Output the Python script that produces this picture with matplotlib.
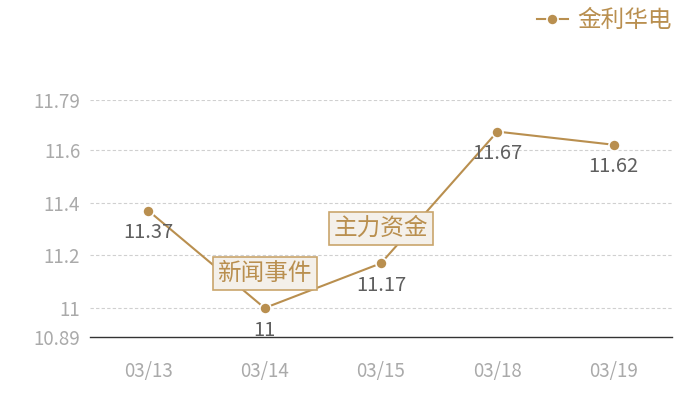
import matplotlib
matplotlib.use("Agg")
import matplotlib.pyplot as plt

plt.rcParams['font.family'] = ['Noto Sans CJK SC', 'DejaVu Sans']

# dati
dates = ["03/13", "03/14", "03/15", "03/18", "03/19"]
prices = [11.37, 11.00, 11.17, 11.67, 11.62]
yticks = [10.89, 11, 11.2, 11.4, 11.6, 11.79]
ytick_labels = ["10.89", "11", "11.2", "11.4", "11.6", "11.79"]
series_name = "金利华电"
events = [(1, "新闻事件"), (2, "主力资金")]

gold = "#b98f4f"
x = list(range(len(dates)))

fig = plt.figure(figsize=(7, 4), dpi=100)
ax = fig.add_axes([90/700, 63/400, 582/700, 237/400])

ax.plot(x, prices, color=gold, lw=1.5, marker="o", ms=8,
        mec="white", mew=1.2, label=series_name, zorder=3)

# etichette dei valori
for xi, v in zip(x, prices):
    ax.annotate(f"{v:g}", (xi, v), xytext=(0, -16), textcoords="offset points",
                ha="center", va="center", fontsize=14.5, color="#5f5f5f", zorder=4)

# box degli eventi
for xi, txt in events:
    ax.annotate(txt, (xi, prices[xi]), xytext=(0, 25), textcoords="offset points",
                ha="center", va="center", fontsize=17, color=gold, zorder=5,
                bbox=dict(boxstyle="square,pad=0.2", fc="#f4f0ea", ec="#c9a56c", lw=1.2))

ax.set_xlim(-0.5, len(dates) - 0.5)
ax.set_ylim(10.89, 11.79)
ax.set_xticks(x)
ax.set_xticklabels(dates)
ax.set_yticks(yticks)
ax.set_yticklabels(ytick_labels)
ax.tick_params(length=0, labelcolor="#aaaaaa", labelsize=13.5)
ax.tick_params(axis="x", pad=17)
ax.tick_params(axis="y", pad=7)

for g in yticks[1:]:
    ax.axhline(g, color="#d0d0d0", lw=0.8, ls=(0, (3, 2)), zorder=1)

for s in ["top", "right", "left"]:
    ax.spines[s].set_visible(False)
ax.spines["bottom"].set_color("#333333")
ax.spines["bottom"].set_linewidth(1)

leg = fig.legend(loc="upper right", bbox_to_anchor=(0.99, 1.03), frameon=False,
                 fontsize=17, handlelength=1.3, handletextpad=0.4)
for t in leg.get_texts():
    t.set_color(gold)

fig.savefig("out.png", dpi=100)
